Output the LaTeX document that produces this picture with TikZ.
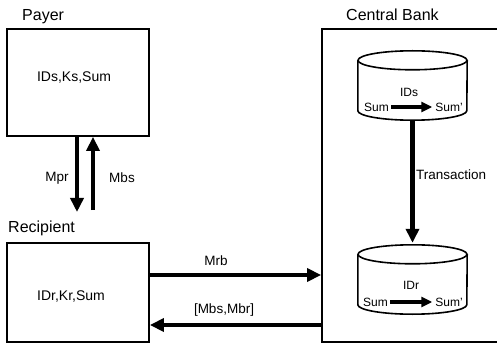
\documentclass[tikz,border=0pt]{standalone}
\usepackage{fontspec}
\setmainfont{Liberation Sans}
\usetikzlibrary{arrows.meta,positioning}

\tikzset{
  box/.style={draw, line width=1.8pt, inner sep=0pt},
  title/.style={font=\fontsize{16}{19}\selectfont, inner sep=0pt},
  data/.style={font=\fontsize{14}{17}\selectfont, inner sep=0pt},
  msg/.style={font=\fontsize{13.5}{16}\selectfont, inner sep=0pt},
  small/.style={font=\fontsize{12}{14}\selectfont, inner sep=0pt},
  db/.style={minimum width=109pt, minimum height=69pt, inner sep=0pt},
  drum/.style={line width=1.6pt},
  flow/.style={line width=4.5pt, -{Triangle[length=14pt, width=13pt]}},
  move/.style={line width=3.5pt, -{Triangle[length=11pt, width=10pt]},
    shorten <=2pt, shorten >=3pt},
}

\begin{document}
\begin{tikzpicture}[x=1pt, y=-1pt]
  \clip (0,0) rectangle (497,347);

  % the three parties
  \node [box, minimum width=142pt, minimum height=107pt] (payer) at (78,82.5) {};
  \node [box, minimum width=142pt, minimum height=99pt] (recipient) at (78,292.5) {};
  \node [box, minimum width=183pt, minimum height=313pt] (bank) at (413.5,185.5) {};

  \node [title, anchor=base west] (payertitle) at (22,21) {Payer};
  \node [title, anchor=base west] (recipienttitle) at (8,232) {Recipient};
  \node [title, anchor=base west] (banktitle) at (346,21) {Central Bank};

  \node [data] (payerdata) at (74,77.5) {IDs,Ks,Sum};
  \node [data] (recipientdata) at (71,297) {IDr,Kr,Sum};

  % accounts of the bank
  \node [db] (ids) at (412.5,85.5) {};
  \node [db] (idr) at (412.5,279.5) {};
  \foreach \acc in {ids,idr} {
    \draw [drum] ([yshift=-9.5pt]\acc.north) ellipse [x radius=54.5, y radius=9.5];
    \draw [drum] ([yshift=-9.5pt]\acc.north west) -- ([yshift=9.5pt]\acc.south west)
      arc [start angle=180, end angle=0, x radius=54.5, y radius=9.5]
      -- ([yshift=-9.5pt]\acc.north east);
  }

  \node [small] (idsname) at (409,92) {IDs};
  \node [small, anchor=west] (idsold) at (364,107) {Sum};
  \node [small, anchor=east] (idsnew) at (463,107) {Sum'};
  \node [small] (idrname) at (411,285) {IDr};
  \node [small, anchor=west] (idrold) at (363,302) {Sum};
  \node [small, anchor=east] (idrnew) at (463,302) {Sum'};

  \draw [move] (idsold) -- (idsnew);
  \draw [move] (idrold) -- (idrnew);

  % messages
  \coordinate (mprend) at (77,212);
  \coordinate (mbsstart) at (93,210);
  \draw [flow] (payer.south -| mprend) -- (mprend);
  \draw [flow] (mbsstart) -- (mbsstart |- payer.south);
  \draw [flow] ([yshift=17.5pt]recipient.east) -- ([yshift=17.5pt]recipient.east -| bank.west);
  \draw [flow] ([yshift=-32.5pt]recipient.east -| bank.west) -- ([yshift=-32.5pt]recipient.east);
  \draw [flow, shorten >=2pt] (ids.south) -- (idr.north);

  \node [msg] (mpr) at (57,178) {Mpr};
  \node [msg] (mbs) at (122,178) {Mbs};
  \node [msg] (mrb) at (216,261) {Mrb};
  \node [msg] (mbsmbr) at (224,310) {[Mbs,Mbr]};
  \node [msg, anchor=west] (transaction) at (416,175) {Transaction};
\end{tikzpicture}
\end{document}
